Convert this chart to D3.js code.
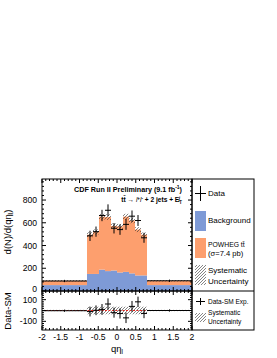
<!DOCTYPE html>
<html><head><meta charset="utf-8">
<script src="https://cdn.jsdelivr.net/npm/d3@7"></script>
<style>body{margin:0;background:#fff} svg{display:block} text{font-family:"Liberation Sans",Arial,Helvetica,sans-serif;fill:#000}</style>
</head><body><svg id="c" width="277" height="358"></svg>
<script>
// ---- data ----
const binEdges = [-2, -0.8, -0.64, -0.48, -0.32, -0.16, 0, 0.16, 0.32, 0.48, 0.64, 0.8, 2];
const background = [52, 150, 150, 188, 175, 180, 163, 168, 155, 137, 137, 52];
const ttbar      = [38, 345, 370, 466, 475, 392, 405, 486, 465, 403, 358, 38];
const dataCounts = [88, 485, 522, 664, 710, 552, 540, 586, 658, 620, 468, 90];
const dataErrors = [10, 45, 45, 50, 52, 46, 46, 48, 50, 48, 44, 10];
const systUnc      = [6, 22, 22, 25, 25, 22, 22, 25, 24, 22, 20, 6];
const ratioSystUnc = [6, 35, 35, 35, 35, 35, 35, 35, 35, 35, 35, 6];
const xTicks = [-2, -1.5, -1, -0.5, 0, 0.5, 1, 1.5, 2];
const xTickLabels = ["-2", "-1.5", "-1", "-0.5", "0", "0.5", "1", "1.5", "2"];
const yTicksMain = [0, 200, 400, 600, 800];
const yTicksRatio = [-100, 0, 100];
const yTickLabelsRatio = ["-100", "0", "100"];

// ---- layout ----
const L = 42, R = 192, T1 = 179, B1 = 291, T2 = 291, B2 = 330, LR = 254;
const colBg = "#7e9ad6", colTt = "#fd9f6e";
const svg = d3.select("#c");
const x = d3.scaleLinear().domain([-2, 2]).range([L, R]);
const y = d3.scaleLinear().domain([0, 985]).range([B1, T1]);
const yr = d3.scaleLinear().domain([-180, 180]).range([B2, T2]);

const defs = svg.append("defs");
const pat = defs.append("pattern").attr("id", "hatch").attr("patternUnits", "userSpaceOnUse")
  .attr("width", 3).attr("height", 3);
pat.append("path").attr("d", "M-0.75,0.75 L0.75,-0.75 M0,3 L3,0 M2.25,3.75 L3.75,2.25")
  .attr("stroke", "#333").attr("stroke-width", 0.6);
defs.append("clipPath").attr("id", "clip1").append("rect").attr("x", L).attr("y", T1).attr("width", R - L).attr("height", B1 - T1);
defs.append("clipPath").attr("id", "clip2").append("rect").attr("x", L).attr("y", T2).attr("width", R - L).attr("height", B2 - T2);

const bins = background.map((b, i) => ({
  x0: binEdges[i], x1: binEdges[i + 1], bg: b, tt: ttbar[i], tot: b + ttbar[i],
  d: dataCounts[i], e: dataErrors[i], s: systUnc[i], rs: ratioSystUnc[i]
}));

// ---- upper panel ----
const g1 = svg.append("g").attr("clip-path", "url(#clip1)");
g1.selectAll("rect.bg").data(bins).join("rect")
  .attr("x", d => x(d.x0)).attr("width", d => x(d.x1) - x(d.x0))
  .attr("y", d => y(d.bg)).attr("height", d => y(0) - y(d.bg)).attr("fill", colBg);
g1.selectAll("rect.tt").data(bins).join("rect")
  .attr("x", d => x(d.x0)).attr("width", d => x(d.x1) - x(d.x0))
  .attr("y", d => y(d.tot)).attr("height", d => y(d.bg) - y(d.tot)).attr("fill", colTt);
g1.selectAll("rect.sy").data(bins).join("rect")
  .attr("x", d => x(d.x0)).attr("width", d => x(d.x1) - x(d.x0))
  .attr("y", d => y(d.tot + d.s)).attr("height", d => y(d.tot - d.s) - y(d.tot + d.s)).attr("fill", "url(#hatch)");
const dg1 = g1.append("g").attr("stroke", "#000").attr("stroke-width", 1);
bins.forEach(d => {
  dg1.append("line").attr("x1", x(d.x0)).attr("x2", x(d.x1)).attr("y1", y(d.d)).attr("y2", y(d.d));
  const xc = x((d.x0 + d.x1) / 2);
  dg1.append("line").attr("x1", xc).attr("x2", xc).attr("y1", y(d.d - d.e)).attr("y2", y(d.d + d.e));
});

// ---- lower panel ----
const g2 = svg.append("g").attr("clip-path", "url(#clip2)");
g2.selectAll("rect.rs").data(bins).join("rect")
  .attr("x", d => x(d.x0)).attr("width", d => x(d.x1) - x(d.x0))
  .attr("y", d => yr(d.rs)).attr("height", d => yr(-d.rs) - yr(d.rs)).attr("fill", "url(#hatch)");
g2.append("line").attr("x1", L).attr("x2", R).attr("y1", yr(0)).attr("y2", yr(0))
  .attr("stroke", "#e8261f").attr("stroke-width", 1).attr("stroke-dasharray", "2,1.5");
const dg2 = g2.append("g").attr("stroke", "#000").attr("stroke-width", 1);
bins.forEach(d => {
  const diff = d.d - d.tot;
  dg2.append("line").attr("x1", x(d.x0)).attr("x2", x(d.x1)).attr("y1", yr(diff)).attr("y2", yr(diff));
  const xc = x((d.x0 + d.x1) / 2);
  dg2.append("line").attr("x1", xc).attr("x2", xc).attr("y1", yr(diff - d.e)).attr("y2", yr(diff + d.e));
});

// ---- frames & ticks ----
const ax = svg.append("g").attr("stroke", "#000").attr("stroke-width", 1).attr("fill", "none");
function tickSet(vals, major) { return vals.map(v => ({ v, major })); }
function xTickList() {
  const out = [];
  for (let i = -20; i <= 20; i++) { const v = i / 10; out.push({ v, major: i % 5 === 0 }); }
  return out;
}
function drawXTicks(yTop, yBot) {
  xTickList().forEach(t => {
    const len = t.major ? 4 : 2;
    ax.append("line").attr("x1", x(t.v)).attr("x2", x(t.v)).attr("y1", yBot).attr("y2", yBot - len);
    ax.append("line").attr("x1", x(t.v)).attr("x2", x(t.v)).attr("y1", yTop).attr("y2", yTop + len);
  });
}
function drawYTicks(scale, step, minorStep, lo, hi) {
  for (let v = lo; v <= hi + 1e-9; v += minorStep) {
    const major = Math.abs(v / step - Math.round(v / step)) < 1e-6;
    const len = major ? 4 : 2;
    const yy = scale(v);
    ax.append("line").attr("x1", L).attr("x2", L + len).attr("y1", yy).attr("y2", yy);
    ax.append("line").attr("x1", R).attr("x2", R - len).attr("y1", yy).attr("y2", yy);
  }
}
drawXTicks(T1, B1);
drawXTicks(T2, B2);
drawYTicks(y, 200, 40, 0, 960);
drawYTicks(yr, 100, 20, -160, 160);
ax.append("rect").attr("x", L).attr("y", T1).attr("width", R - L).attr("height", B1 - T1);
ax.append("rect").attr("x", L).attr("y", T2).attr("width", R - L).attr("height", B2 - T2);
ax.append("rect").attr("x", R).attr("y", T1).attr("width", LR - R).attr("height", B2 - T1);
ax.append("line").attr("x1", R).attr("x2", LR).attr("y1", B1).attr("y2", B1);

// ---- tick labels ----
const tl = svg.append("g").attr("font-size", 8.6);
yTicksMain.forEach(v => tl.append("text").attr("x", 37).attr("y", y(v) - (v === 0 ? 2 : 0)).attr("dy", "0.35em").attr("text-anchor", "end").text(v));
yTicksRatio.forEach((v, i) => tl.append("text").attr("x", 37).attr("y", yr(v)).attr("dy", "0.35em").attr("text-anchor", "end").text(yTickLabelsRatio[i]));
xTicks.forEach((v, i) => tl.append("text").attr("x", x(v)).attr("y", 337).attr("dy", "0.35em").attr("text-anchor", "middle").text(xTickLabels[i]));

// ---- axis titles ----
const yt = svg.append("text").attr("transform", "translate(11,232) rotate(-90)").attr("text-anchor", "middle").attr("font-size", 9.5);
yt.append("tspan").text("d(N)/d(qη");
yt.append("tspan").attr("font-size", 6.5).attr("dy", 2).text("l");
yt.append("tspan").attr("dy", -2).text(")");
svg.append("text").attr("transform", "translate(11,311) rotate(-90)").attr("text-anchor", "middle").attr("font-size", 9.5).text("Data-SM");
const xt = svg.append("text").attr("x", 117).attr("y", 352).attr("text-anchor", "middle").attr("font-size", 9.5);
xt.append("tspan").text("qη");
xt.append("tspan").attr("font-size", 6.5).attr("dy", 2).text("l");

// ---- titles ----
const t1 = svg.append("text").attr("x", 182).attr("y", 191.5).attr("text-anchor", "end").attr("font-size", 7.2).attr("font-weight", "bold");
t1.append("tspan").text("CDF Run II Preliminary (9.1 fb");
t1.append("tspan").attr("font-size", 5).attr("dy", -3).text("-1");
t1.append("tspan").attr("dy", 3).text(")");
const t2 = svg.append("text").attr("x", 182).attr("y", 202).attr("text-anchor", "end").attr("font-size", 6.6).attr("font-weight", "bold");
t2.append("tspan").text("tt\u0304 \u2192 ");
t2.append("tspan").attr("font-style", "italic").attr("font-weight", "normal").text("l");
t2.append("tspan").attr("font-size", 4.5).attr("dy", -2.5).text("+");
t2.append("tspan").attr("font-style", "italic").attr("font-weight", "normal").attr("dy", 2.5).text("l");
t2.append("tspan").attr("font-size", 4.5).attr("dy", -2.5).text("-");
t2.append("tspan").attr("dy", 2.5).text(" + 2 jets + E\u0338");
t2.append("tspan").attr("font-size", 4.5).attr("dy", 1.5).text("T");

// ---- legend ----
const lg = svg.append("g");
const sx = 195, sw = 11, tx = 208;
lg.append("line").attr("x1", sx + sw / 2).attr("x2", sx + sw / 2).attr("y1", 186).attr("y2", 201).attr("stroke", "#000");
lg.append("line").attr("x1", sx).attr("x2", sx + sw).attr("y1", 193.5).attr("y2", 193.5).attr("stroke", "#000");
lg.append("text").attr("x", tx).attr("y", 193.5).attr("dy", "0.35em").attr("font-size", 8).text("Data");
lg.append("rect").attr("x", sx).attr("y", 211).attr("width", sw).attr("height", 20).attr("fill", colBg);
lg.append("text").attr("x", tx).attr("y", 220.5).attr("dy", "0.35em").attr("font-size", 8).text("Background");
lg.append("rect").attr("x", sx).attr("y", 238).attr("width", sw).attr("height", 20).attr("fill", colTt);
lg.append("text").attr("x", tx).attr("y", 244.5).attr("dy", "0.35em").attr("font-size", 6.8).text("POWHEG tt\u0304");
lg.append("text").attr("x", tx).attr("y", 253.5).attr("dy", "0.35em").attr("font-size", 7.6).text("(\u03c3=7.4 pb)");
lg.append("rect").attr("x", sx).attr("y", 265).attr("width", sw).attr("height", 20).attr("fill", "url(#hatch)");
lg.append("text").attr("x", tx).attr("y", 270.5).attr("dy", "0.35em").attr("font-size", 8).text("Systematic");
lg.append("text").attr("x", tx).attr("y", 281).attr("dy", "0.35em").attr("font-size", 8).text("Uncertainty");
lg.append("line").attr("x1", sx + sw / 2).attr("x2", sx + sw / 2).attr("y1", 298).attr("y2", 305).attr("stroke", "#000");
lg.append("line").attr("x1", sx + 1).attr("x2", sx + sw - 1).attr("y1", 301.5).attr("y2", 301.5).attr("stroke", "#000");
lg.append("text").attr("x", tx).attr("y", 301.5).attr("dy", "0.35em").attr("font-size", 6.5).text("Data-SM Exp.");
lg.append("rect").attr("x", sx).attr("y", 313).attr("width", sw).attr("height", 9).attr("fill", "url(#hatch)");
lg.append("text").attr("x", tx).attr("y", 313).attr("dy", "0.35em").attr("font-size", 6.6).text("Systematic");
lg.append("text").attr("x", tx).attr("y", 321.5).attr("dy", "0.35em").attr("font-size", 6.6).text("Uncertainty");
</script></body></html>
